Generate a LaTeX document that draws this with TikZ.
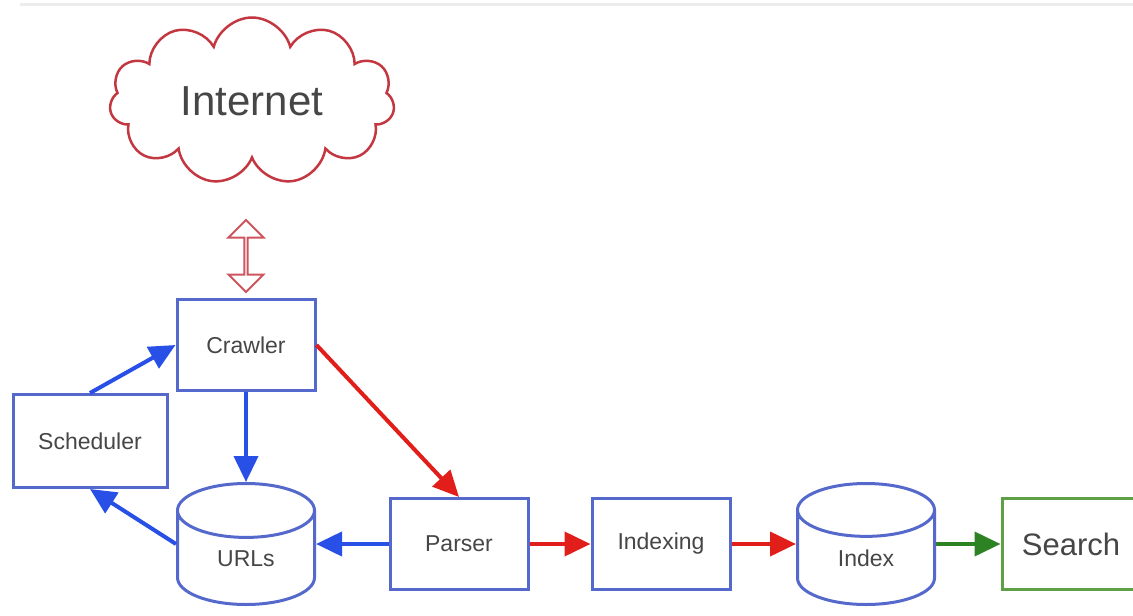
\documentclass[tikz,border=0pt]{standalone}
\usepackage{fontspec}
\setmainfont{Liberation Sans}
\usetikzlibrary{shapes.geometric,shapes.symbols,shapes.arrows,arrows.meta}
\definecolor{boxblue}{RGB}{85,105,205}
\definecolor{arrowblue}{RGB}{40,80,230}
\definecolor{arrowred}{RGB}{225,30,25}
\definecolor{cloudred}{RGB}{195,55,65}
\definecolor{arrowgreen}{RGB}{45,130,35}
\definecolor{boxgreen}{RGB}{95,160,70}
\definecolor{textgray}{RGB}{70,70,70}
\begin{document}
\begin{tikzpicture}[x=1pt,y=-1pt,
    every node/.style={align=center, text=textgray, font=\fontsize{23}{27}\selectfont},
    blue box/.style={draw=boxblue, line width=3pt, fill=white, minimum width=138pt, minimum height=91pt},
    store/.style={cylinder, shape border rotate=90, draw=boxblue, line width=3pt, fill=white, aspect=0.84, minimum width=137pt, minimum height=121pt, anchor=shape center},
    blue arrow/.style={draw=arrowblue, line width=4pt, -{Triangle[length=26pt,width=24pt]}},
    red arrow/.style={draw=arrowred, line width=4pt, -{Triangle[length=26pt,width=24pt]}},
    green arrow/.style={draw=arrowgreen, line width=4pt, -{Triangle[length=26pt,width=24pt]}},
    ]
\useasboundingbox (0,0) rectangle (1133,616);
\clip (0,0) rectangle (1133,616);
\draw[line width=3pt, gray!15] (20,4) -- (1133,4);
\node[cloud, cloud puffs=11, aspect=1.7, draw=cloudred, line width=2.5pt, minimum width=285pt, minimum height=167pt, font=\fontsize{42}{48}\selectfont] (net) at (252,101) {Internet};
\node[double arrow, rotate=90, draw=cloudred!85, fill=white, line width=2pt, minimum height=72pt, minimum width=35pt, double arrow head extend=10pt, inner sep=0pt] (link) at (246,256) {};
\node[blue box] (crawler) at (246,345) {Crawler};
\node[blue box, minimum width=154pt, minimum height=93pt] (sched) at (90,441) {Scheduler};
\node[store] (urls) at (246,544) {\raisebox{8pt}{URLs}};
\node[blue box] (parser) at (459,544) {Parser};
\node[blue box] (indexing) at (661,544) {Indexing};
\node[store] (index) at (866,544) {\raisebox{8pt}{Index}};
\node[blue box, draw=boxgreen, font=\fontsize{31}{36}\selectfont] (search) at (1071,544) {Search};
\draw[blue arrow] (sched.north) -- (crawler.west);
\draw[blue arrow] (crawler) -- (urls.north);
\draw[blue arrow] (urls.west |- parser.west) -- (sched.south);
\draw[red arrow] (crawler.east) -- (parser.north);
\draw[blue arrow] (parser.west) -- (urls.east |- parser.west);
\draw[red arrow] (parser) -- (indexing);
\draw[red arrow] (indexing.east) -- (index.west |- indexing.east);
\draw[green arrow] (index.east |- search.west) -- (search.west);
\end{tikzpicture}
\end{document}
